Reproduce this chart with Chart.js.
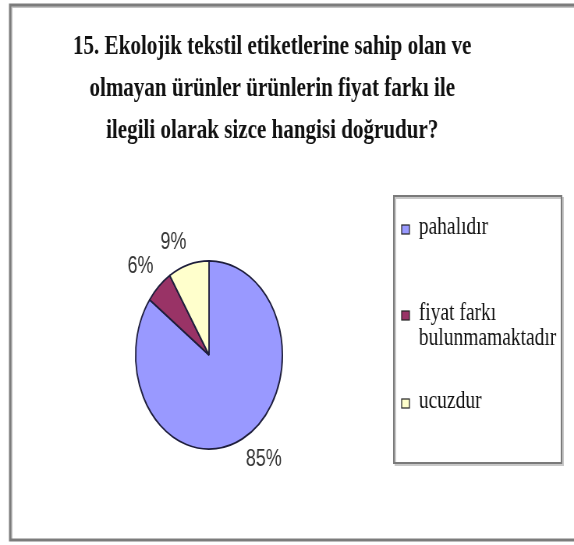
<!DOCTYPE html>
<html lang="tr">
<head>
<meta charset="utf-8">
<title>Ekolojik tekstil etiketleri – fiyat farkı</title>
<script src="https://cdn.jsdelivr.net/npm/chart.js@4/dist/chart.umd.min.js"></script>
<style>
  html, body { margin: 0; padding: 0; background: #ffffff; overflow: hidden; }
  /* the chart is laid out on a wider canvas and shown narrower, which gives the
     oval pie and the condensed lettering */
  #survey { display: block; width: 574px !important; height: 545px !important; }
</style>
</head>
<body>
<canvas id="survey" width="736" height="545"></canvas>
<script>
// ---- data ----
const titleLines = [
  '15. Ekolojik tekstil etiketlerine sahip olan ve',
  'olmayan ürünler ürünlerin fiyat farkı ile',
  'ilegili olarak sizce hangisi doğrudur?'
];
const categories = ['pahalıdır', ['fiyat farkı', 'bulunmamaktadır'], 'ucuzdur'];
const shares = [85, 6, 9];
const sliceColors = ['#9999FF', '#993366', '#FFFFCC'];

// ---- drawing helpers ----
const SERIF = '"Liberation Serif", "Times New Roman", serif';
const SANS = '"Liberation Sans", Arial, sans-serif';

// white sheet and the outer frame
const framePlugin = {
  id: 'frame',
  beforeDraw(chart) {
    const ctx = chart.ctx;
    ctx.save();
    ctx.fillStyle = '#ffffff';
    ctx.fillRect(0, 0, chart.width, chart.height);
    ctx.strokeStyle = '#c4c4c4';
    ctx.lineWidth = 2;
    ctx.strokeRect(15, 7, 760, 533);
    ctx.strokeStyle = '#7c7c7c';
    ctx.lineWidth = 3;
    ctx.strokeRect(13, 5, 760, 535);
    ctx.restore();
  }
};

// three-line bold heading
const headingPlugin = {
  id: 'heading',
  afterDraw(chart) {
    const ctx = chart.ctx;
    ctx.save();
    ctx.font = 'bold 27px ' + SERIF;
    ctx.fillStyle = '#111111';
    ctx.textAlign = 'center';
    ctx.textBaseline = 'alphabetic';
    titleLines.forEach((line, i) => ctx.fillText(line, 349, 54 + i * 42));
    ctx.restore();
  }
};

// percentage labels placed just outside each slice
const sliceLabelPlugin = {
  id: 'sliceLabels',
  afterDatasetsDraw(chart) {
    const ctx = chart.ctx;
    const meta = chart.getDatasetMeta(0);
    const values = chart.data.datasets[0].data;
    const total = values.reduce((a, b) => a + b, 0);
    ctx.save();
    ctx.font = '23px ' + SANS;
    ctx.fillStyle = '#333333';
    ctx.textAlign = 'center';
    ctx.textBaseline = 'middle';
    meta.data.forEach((arc, i) => {
      const p = arc.getProps(['x', 'y', 'startAngle', 'endAngle', 'outerRadius'], true);
      const mid = (p.startAngle + p.endAngle) / 2;
      const dx = Math.cos(mid), dy = Math.sin(mid);
      const ax = p.x + (p.outerRadius + 10) * dx;
      const ay = p.y + (p.outerRadius + 10) * dy;
      const text = Math.round(values[i] / total * 100) + '%';
      const w = ctx.measureText(text).width;
      ctx.fillText(text, ax + Math.sign(dx) * w / 2, ay + Math.sign(dy) * 12);
    });
    ctx.restore();
  }
};

// boxed legend on the right
const sideLegendPlugin = {
  id: 'sideLegend',
  afterDraw(chart) {
    const ctx = chart.ctx;
    const box = { x: 505, y: 196, w: 215, h: 267 };
    const rowBaselines = [234, 320, 408];
    const lineGap = 25;
    ctx.save();
    // shadow, then frame
    ctx.strokeStyle = '#c8c8c8';
    ctx.lineWidth = 2;
    ctx.strokeRect(box.x + 2, box.y + 2, box.w, box.h);
    ctx.strokeStyle = '#7a7a7a';
    ctx.lineWidth = 2;
    ctx.strokeRect(box.x, box.y, box.w, box.h);

    ctx.beginPath();
    ctx.rect(box.x + 1, box.y + 1, box.w - 2, box.h - 2);
    ctx.clip();

    const labels = chart.data.labels;
    const colors = chart.data.datasets[0].backgroundColor;
    ctx.font = '25px ' + SERIF;
    ctx.textAlign = 'left';
    ctx.textBaseline = 'alphabetic';
    labels.forEach((label, i) => {
      const base = rowBaselines[i];
      ctx.fillStyle = colors[i];
      ctx.fillRect(515, base - 9, 10, 9);
      ctx.strokeStyle = '#222222';
      ctx.lineWidth = 1.2;
      ctx.strokeRect(515, base - 9, 10, 9);
      ctx.fillStyle = '#111111';
      const lines = Array.isArray(label) ? label : [label];
      lines.forEach((t, k) => ctx.fillText(t, 537, base + k * lineGap));
    });
    ctx.restore();
  }
};

new Chart(document.getElementById('survey'), {
  type: 'pie',
  data: {
    labels: categories,
    datasets: [{
      data: shares,
      backgroundColor: sliceColors,
      borderColor: '#1e1e3c',
      borderWidth: 1.8
    }]
  },
  options: {
    responsive: false,
    devicePixelRatio: 1,
    animation: false,
    rotation: 0,
    layout: { padding: { left: 173, right: 373, top: 260, bottom: 95 } },
    plugins: {
      legend: { display: false },
      title: { display: false },
      tooltip: { enabled: false }
    }
  },
  plugins: [framePlugin, sliceLabelPlugin, headingPlugin, sideLegendPlugin]
});
</script>
</body>
</html>
